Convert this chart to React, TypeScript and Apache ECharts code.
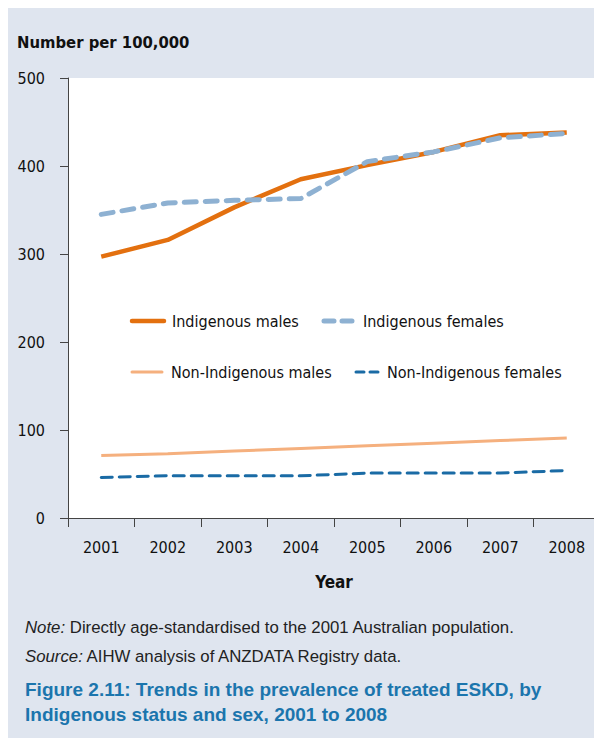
import React, { useEffect, useRef } from "react";
import * as echarts from "echarts";

const years = ["2001", "2002", "2003", "2004", "2005", "2006", "2007", "2008"];
const indigenousMales = [297, 316, 353, 385, 401, 416, 435, 438];
const indigenousFemales = [345, 358, 361, 363, 405, 416, 432, 437];
const nonIndigenousMales = [71, 73, 76, 79, 82, 85, 88, 91];
const nonIndigenousFemales = [46, 48, 48, 48, 51, 51, 51, 54];
const yTicks = { min: 0, max: 500, interval: 100 };

const NARROW = "'DejaVu Sans Condensed', 'Liberation Sans Narrow', sans-serif";
const REG = "'Liberation Sans', Arial, sans-serif";

const C_IM = "#e3700f";
const C_IF = "#8eb1d2";
const C_NIM = "#f5b07e";
const C_NIF = "#1a6ba5";
const BG = "#dfe5ef";
const CAP = "#1b75ad";

export default function App() {
  const ref = useRef<HTMLDivElement>(null);
  useEffect(() => {
    document.documentElement.style.overflow = "hidden";
    document.body.style.overflow = "hidden";
    const chart = echarts.init(ref.current!, undefined, { renderer: "svg" });
    const legendText = (x: number, y: number, t: string) => ({
      type: "text",
      x,
      y,
      style: { text: t, fill: "#111", font: `16px ${NARROW}`, verticalAlign: "middle", align: "left" },
    });
    const legendLine = (x1: number, x2: number, y: number, color: string, w: number, dash?: number[]) => ({
      type: "line",
      shape: { x1, y1: y, x2, y2: y },
      style: { stroke: color, lineWidth: w, lineDash: dash, lineCap: "round" },
    });
    const option: any = {
      animation: false,
      backgroundColor: BG,
      grid: { left: 60, top: 70, width: 532, height: 440, show: true, backgroundColor: "#fff", borderWidth: 0 },
      xAxis: {
        type: "category",
        data: years,
        boundaryGap: true,
        axisLine: { show: true, lineStyle: { color: "#444", width: 1 } },
        axisTick: { show: true, length: 9, lineStyle: { color: "#444" } },
        axisLabel: { color: "#111", fontSize: 16, fontFamily: NARROW, margin: 21 },
        name: "Year",
        nameLocation: "middle",
        nameGap: 55,
        nameTextStyle: { color: "#111", fontSize: 17, fontWeight: "bold", fontFamily: NARROW },
      },
      yAxis: {
        type: "value",
        min: yTicks.min,
        max: yTicks.max,
        interval: yTicks.interval,
        axisLine: { show: true, lineStyle: { color: "#444", width: 1 } },
        axisTick: { show: true, length: 8, lineStyle: { color: "#444" } },
        axisLabel: { color: "#111", fontSize: 16, fontFamily: NARROW, margin: 23 },
        splitLine: { show: false },
      },
      series: [
        {
          name: "Non-Indigenous males",
          type: "line",
          data: nonIndigenousMales,
          symbol: "none",
          lineStyle: { color: C_NIM, width: 3 },
        },
        {
          name: "Non-Indigenous females",
          type: "line",
          data: nonIndigenousFemales,
          symbol: "none",
          lineStyle: { color: C_NIF, width: 3, type: [11, 7], cap: "round" },
        },
        {
          name: "Indigenous males",
          type: "line",
          data: indigenousMales,
          symbol: "none",
          lineStyle: { color: C_IM, width: 4.5 },
        },
        {
          name: "Indigenous females",
          type: "line",
          data: indigenousFemales,
          symbol: "none",
          lineStyle: { color: C_IF, width: 5, type: [12, 9], cap: "round" },
        },
      ],
      graphic: [
        {
          type: "text",
          x: 9,
          y: 34,
          style: { text: "Number per 100,000", fill: "#111", font: `bold 16.5px ${NARROW}`, verticalAlign: "middle" },
        },
        legendLine(124, 156, 313, C_IM, 4.5),
        legendText(164, 313, "Indigenous males"),
        legendLine(316, 347, 313, C_IF, 5, [10, 8]),
        legendText(355, 313, "Indigenous females"),
        legendLine(124, 154, 364, C_NIM, 3),
        legendText(163, 364, "Non-Indigenous males"),
        legendLine(348, 370, 364, C_NIF, 3, [8, 6]),
        legendText(379, 364, "Non-Indigenous females"),
        {
          type: "text",
          x: 17,
          y: 619,
          style: {
            text: "{i|Note:} Directly age-standardised to the 2001 Australian population.",
            fill: "#222",
            font: `16.8px ${REG}`,
            verticalAlign: "middle",
            rich: { i: { fontStyle: "italic", fontSize: 16.8, fontFamily: REG, fill: "#222" } },
          },
        },
        {
          type: "text",
          x: 17,
          y: 648,
          style: {
            text: "{i|Source:} AIHW analysis of ANZDATA Registry data.",
            fill: "#222",
            font: `16.8px ${REG}`,
            verticalAlign: "middle",
            rich: { i: { fontStyle: "italic", fontSize: 16.8, fontFamily: REG, fill: "#222" } },
          },
        },
        {
          type: "text",
          x: 17,
          y: 681,
          style: {
            text: "Figure 2.11: Trends in the prevalence of treated ESKD, by",
            fill: CAP,
            font: `bold 19px ${REG}`,
            verticalAlign: "middle",
          },
        },
        {
          type: "text",
          x: 17,
          y: 706,
          style: {
            text: "Indigenous status and sex, 2001 to 2008",
            fill: CAP,
            font: `bold 19px ${REG}`,
            verticalAlign: "middle",
          },
        },
      ],
    };
    chart.setOption(option);
    return () => chart.dispose();
  }, []);
  return <div ref={ref} style={{ width: 594, height: 730 }} />;
}
